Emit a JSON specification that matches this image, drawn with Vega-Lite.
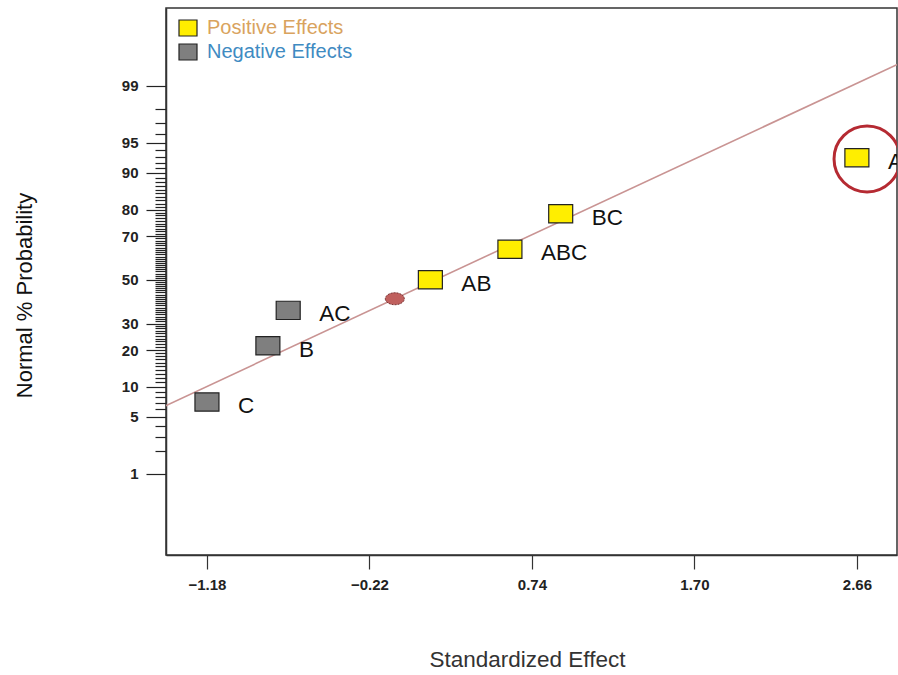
{
  "$schema": "https://vega.github.io/schema/vega-lite/v6.json",
  "autosize": {"type": "none"},
  "width": 731,
  "height": 547,
  "padding": {"left": 166, "top": 8, "right": 1, "bottom": 120},
  "background": "white",
  "config": {
    "font": "Liberation Sans",
    "view": {"stroke": "#333333", "strokeWidth": 1.5}
  },
  "datasets": {
    "effects": [
      {"term": "C", "effect": -1.18, "normalScore": -1.4652, "sign": "Negative Effects"},
      {"term": "B", "effect": -0.82, "normalScore": -0.7916, "sign": "Negative Effects"},
      {"term": "AC", "effect": -0.70, "normalScore": -0.3661, "sign": "Negative Effects"},
      {"term": "AB", "effect": 0.14, "normalScore": 0.0, "sign": "Positive Effects"},
      {"term": "ABC", "effect": 0.61, "normalScore": 0.3661, "sign": "Positive Effects"},
      {"term": "BC", "effect": 0.91, "normalScore": 0.7916, "sign": "Positive Effects"},
      {"term": "A", "effect": 2.66, "normalScore": 1.4652, "sign": "Positive Effects"}
    ],
    "fitLine": [
      {"effect": -1.43, "normalScore": -1.515},
      {"effect": 2.90, "normalScore": 2.585}
    ],
    "center": [
      {"effect": -0.07, "normalScore": -0.227}
    ],
    "highlight": [
      {"effect": 2.72, "normalScore": 1.45}
    ]
  },
  "encoding": {
    "x": {
      "field": "effect",
      "type": "quantitative",
      "scale": {"domain": [-1.422, 2.897], "nice": false, "zero": false},
      "axis": {
        "title": "Standardized Effect",
        "values": [-1.18, -0.22, 0.74, 1.70, 2.66],
        "format": ".2f",
        "grid": false,
        "domainColor": "#333333",
        "domainWidth": 1.5,
        "tickColor": "#333333",
        "tickSize": 14,
        "tickWidth": 1.2,
        "labelFontSize": 15,
        "labelFontWeight": "bold",
        "labelColor": "#222222",
        "labelPadding": 8,
        "labelFlush": false,
        "labelOverlap": false,
        "titleFontSize": 22.5,
        "titleFontWeight": "normal",
        "titleColor": "#333333",
        "titleX": 361,
        "titleY": 104,
        "titleBaseline": "middle"
      }
    },
    "y": {
      "field": "normalScore",
      "type": "quantitative",
      "scale": {"domain": [-3.3, 3.26], "nice": false, "zero": false},
      "axis": {
        "title": "Normal % Probability",
        "values": [-2.32635, -2.05375, -1.88079, -1.75069, -1.64485, -1.55477, -1.47579, -1.40507, -1.34076, -1.28155, -1.22653, -1.17499, -1.12639, -1.08032, -1.03643, -0.99446, -0.95417, -0.91537, -0.8779, -0.84162, -0.80642, -0.77219, -0.73885, -0.7063, -0.67449, -0.64335, -0.61281, -0.58284, -0.55338, -0.5244, -0.49585, -0.4677, -0.43991, -0.41246, -0.38532, -0.35846, -0.33185, -0.30548, -0.27932, -0.25335, -0.22754, -0.20189, -0.17637, -0.15097, -0.12566, -0.10043, -0.07527, -0.05015, -0.02507, 0, 0.02507, 0.05015, 0.07527, 0.10043, 0.12566, 0.15097, 0.17637, 0.20189, 0.22754, 0.25335, 0.27932, 0.30548, 0.33185, 0.35846, 0.38532, 0.41246, 0.43991, 0.4677, 0.49585, 0.5244, 0.55338, 0.58284, 0.61281, 0.64335, 0.67449, 0.7063, 0.73885, 0.77219, 0.80642, 0.84162, 0.8779, 0.91537, 0.95417, 0.99446, 1.03643, 1.08032, 1.12639, 1.17499, 1.22653, 1.28155, 1.34076, 1.40507, 1.47579, 1.55477, 1.64485, 1.75069, 1.88079, 2.05375, 2.32635],
        "labelExpr": "indexof([1, 5, 10, 20, 30, 50, 70, 80, 90, 95, 99], round(cumulativeNormal(datum.value) * 100)) >= 0 ? '' + round(cumulativeNormal(datum.value) * 100) : ''",
        "tickSize": {
          "condition": {"test": "indexof([1, 5, 10, 20, 30, 50, 70, 80, 90, 95, 99], round(cumulativeNormal(datum.value) * 100)) >= 0", "value": 20},
          "value": 11
        },
        "grid": false,
        "domainColor": "#333333",
        "domainWidth": 1.5,
        "tickColor": "#222222",
        "tickWidth": 1.2,
        "labelFontSize": 15,
        "labelFontWeight": "bold",
        "labelColor": "#222222",
        "labelPadding": 8,
        "labelOverlap": false,
        "labelFlush": false,
        "titleFontSize": 22,
        "titleFontWeight": "normal",
        "titleColor": "#111111",
        "titleAngle": -90,
        "titleX": -142,
        "titleY": 287,
        "titleAlign": "center",
        "titleBaseline": "middle"
      }
    }
  },
  "layer": [
    {
      "data": {"name": "fitLine"},
      "mark": {"type": "line", "stroke": "#C99493", "strokeWidth": 1.6, "clip": true},
      "encoding": {}
    },
    {
      "data": {"name": "center"},
      "mark": {
        "type": "point",
        "shape": "M-1,0A1,0.63,0,1,0,1,0A1,0.63,0,1,0,-1,0Z",
        "size": 361,
        "filled": true,
        "fill": "#C0605E",
        "fillOpacity": 1,
        "stroke": "#7A3434",
        "strokeWidth": 1,
        "strokeDash": [2, 1]
      },
      "encoding": {}
    },
    {
      "data": {"name": "effects"},
      "mark": {
        "type": "point",
        "shape": "M-1,-0.76H1V0.76H-1Z",
        "size": 576,
        "filled": true,
        "fillOpacity": 1,
        "stroke": "#222222",
        "strokeWidth": 1.2,
        "opacity": 1
      },
      "encoding": {
        "fill": {
          "field": "sign",
          "type": "nominal",
          "scale": {"domain": ["Positive Effects", "Negative Effects"], "range": ["#FFEE00", "#7F7F7F"]},
          "legend": {
            "title": null,
            "orient": "none",
            "legendX": 12,
            "legendY": 10,
            "padding": 0,
            "symbolType": "M-1,-0.89H1V0.89H-1Z",
            "symbolSize": 324,
            "symbolStrokeColor": "#222222",
            "symbolStrokeWidth": 1.2,
            "symbolOpacity": 1,
            "labelFontSize": 20,
            "labelOffset": 9,
            "rowPadding": 2,
            "labelColor": {"expr": "datum.label == 'Positive Effects' ? '#D9A35E' : '#3F8BC2'"}
          }
        }
      }
    },
    {
      "data": {"name": "effects"},
      "mark": {
        "type": "text",
        "align": "left",
        "baseline": "middle",
        "dx": 31,
        "dy": 4,
        "fontSize": 22.5,
        "color": "#111111",
        "clip": true
      },
      "encoding": {"text": {"field": "term"}}
    },
    {
      "data": {"name": "highlight"},
      "mark": {
        "type": "point",
        "shape": "circle",
        "size": 4356,
        "filled": false,
        "stroke": "#B52A32",
        "strokeWidth": 3,
        "opacity": 1,
        "clip": true
      },
      "encoding": {}
    }
  ]
}
